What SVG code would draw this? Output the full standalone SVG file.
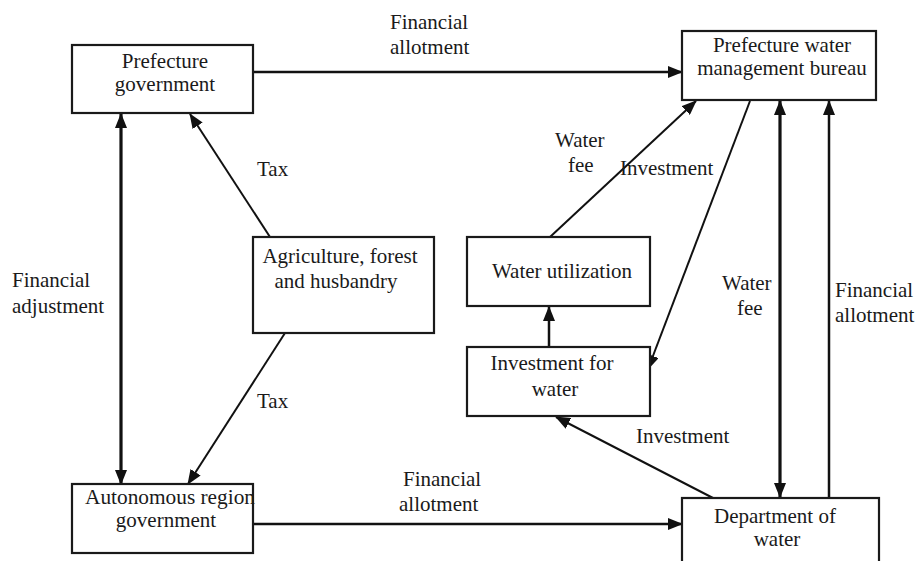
<svg xmlns="http://www.w3.org/2000/svg" width="917" height="561" viewBox="0 0 917 561" font-family="'Liberation Serif', 'DejaVu Serif', 'Times New Roman', serif">
<style>
  .box{fill:#fff;stroke:#1a1a1a;stroke-width:2.2}
  .t{font-family:'Liberation Serif','Times New Roman','DejaVu Serif',serif;font-size:21px;fill:#1a1a1a}
  .c{text-anchor:middle}
  .ln{stroke:#111;stroke-width:2;fill:none}
  .thick{stroke-width:3.2}
  .med{stroke-width:2.5}
</style>
<defs>
  <marker id="ah" markerUnits="userSpaceOnUse" markerWidth="15" markerHeight="12" refX="14" refY="6" orient="auto-start-reverse" viewBox="0 0 15 12">
    <path d="M0,0 L15,6 L0,12 z" fill="#111"/>
  </marker>
</defs>
<rect width="917" height="561" fill="#fff"/>

<g id="connectors">
  <line class="ln med" x1="253" y1="72" x2="682" y2="72" marker-end="url(#ah)"/>
  <line class="ln med" x1="253" y1="524" x2="682" y2="524" marker-end="url(#ah)"/>
  <line class="ln thick" x1="121" y1="114" x2="121" y2="484" marker-start="url(#ah)" marker-end="url(#ah)"/>
  <line class="ln" x1="270" y1="237" x2="190" y2="114" marker-end="url(#ah)"/>
  <line class="ln" x1="285" y1="333" x2="188" y2="484" marker-end="url(#ah)"/>
  <line class="ln" x1="550" y1="237" x2="696" y2="101" marker-end="url(#ah)"/>
  <line class="ln" x1="750" y1="101" x2="648" y2="369" marker-end="url(#ah)"/>
  <line class="ln med" x1="549" y1="347" x2="549" y2="307" marker-end="url(#ah)"/>
  <line class="ln" x1="713" y1="498" x2="556" y2="417" marker-end="url(#ah)"/>
  <line class="ln thick" x1="780" y1="101" x2="780" y2="497" marker-start="url(#ah)" marker-end="url(#ah)"/>
  <line class="ln med" x1="829" y1="498" x2="829" y2="101" marker-end="url(#ah)"/>
  <text class="t" x="390" y="29">Financial</text>
  <text class="t" x="390" y="54">allotment</text>
  <text class="t" x="257" y="176">Tax</text>
  <text class="t" x="12" y="287">Financial</text>
  <text class="t" x="12" y="313">adjustment</text>
  <text class="t" x="257" y="408">Tax</text>
  <text class="t" x="555" y="147">Water</text>
  <text class="t" x="568" y="172">fee</text>
  <text class="t" x="620" y="175">Investment</text>
  <text class="t" x="722" y="290">Water</text>
  <text class="t" x="737" y="315">fee</text>
  <text class="t" x="835" y="297">Financial</text>
  <text class="t" x="835" y="322">allotment</text>
  <text class="t" x="636" y="443">Investment</text>
  <text class="t" x="403" y="486">Financial</text>
  <text class="t" x="399" y="511">allotment</text>
</g>

<g id="prefecture-government">
  <rect class="box" x="72" y="45" width="181" height="68"/>
  <text class="t c" x="165" y="68">Prefecture</text>
  <text class="t c" x="165" y="91">government</text>
</g>
<g id="prefecture-water-bureau">
  <rect class="box" x="682" y="31" width="194" height="69"/>
  <text class="t c" x="782" y="52">Prefecture water</text>
  <text class="t c" x="782" y="75">management bureau</text>
</g>
<g id="agriculture">
  <rect class="box" x="253" y="237" width="181" height="96"/>
  <text class="t c" x="340" y="263">Agriculture, forest</text>
  <text class="t c" x="336" y="288">and husbandry</text>
</g>
<g id="water-utilization">
  <rect class="box" x="467" y="237" width="183" height="69"/>
  <text class="t c" x="562" y="278">Water utilization</text>
</g>
<g id="investment-for-water">
  <rect class="box" x="467" y="347" width="183" height="69"/>
  <text class="t c" x="552" y="370">Investment for</text>
  <text class="t c" x="555" y="396">water</text>
</g>
<g id="autonomous-region-government">
  <rect class="box" x="72" y="484" width="181" height="69"/>
  <text class="t" x="85" y="504" textLength="170" lengthAdjust="spacingAndGlyphs">Autonomous region</text>
  <text class="t c" x="166" y="527">government</text>
</g>
<g id="department-of-water">
  <rect class="box" x="682" y="498" width="197" height="80"/>
  <text class="t c" x="775" y="523">Department of</text>
  <text class="t c" x="777" y="546">water</text>
</g>
</svg>
